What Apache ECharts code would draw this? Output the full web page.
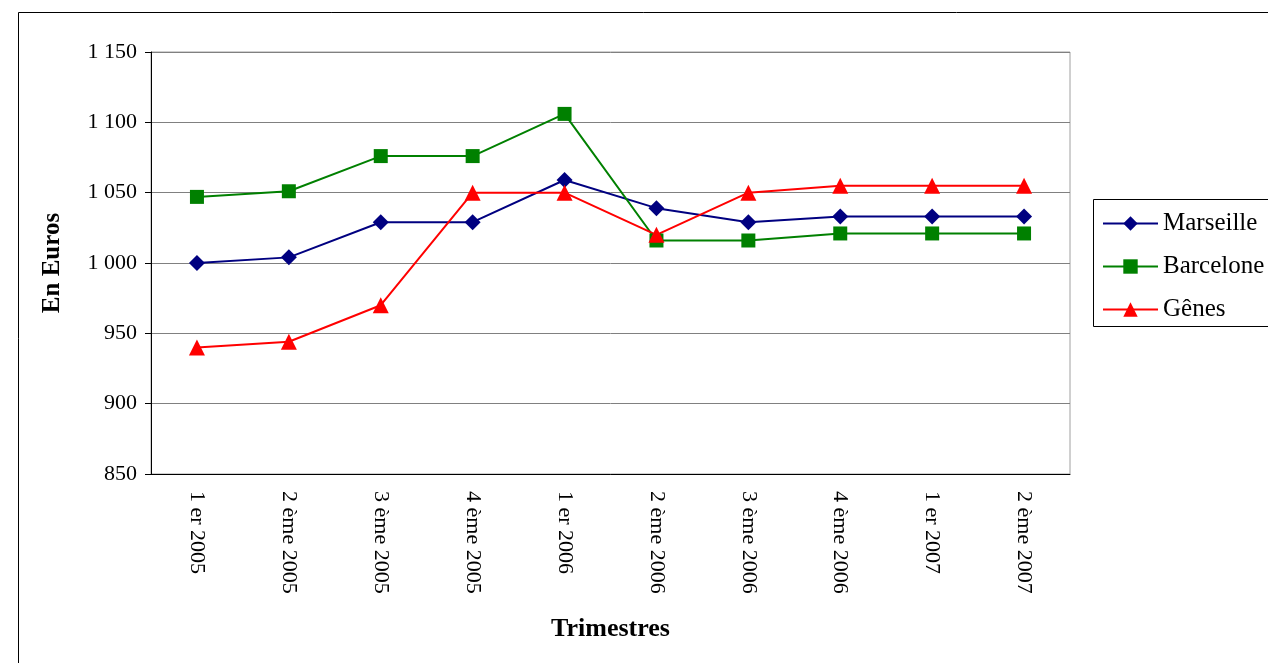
<!DOCTYPE html>
<html>
<head>
<meta charset="utf-8">
<script src="https://cdn.jsdelivr.net/npm/echarts@6/dist/echarts.min.js"></script>
<style>
  html, body { margin: 0; padding: 0; background: #fff; }
  #chart { width: 1268px; height: 663px; }
</style>
</head>
<body>
<div id="chart"></div>
<script>
var trimestres = ['1 er 2005', '2 ème 2005', '3 ème 2005', '4 ème 2005', '1 er 2006',
    '2 ème 2006', '3 ème 2006', '4 ème 2006', '1 er 2007', '2 ème 2007'];
var marseille = [1000, 1004, 1029, 1029, 1059, 1039, 1029, 1033, 1033, 1033];
var barcelone = [1047, 1051, 1076, 1076, 1106, 1016, 1016, 1021, 1021, 1021];
var genes = [940, 944, 970, 1050, 1050, 1020, 1050, 1055, 1055, 1055];

var font = 'Liberation Serif';
var myChart = echarts.init(document.getElementById('chart'));

function serie(name, data, color, symbol, size) {
    return {
        name: name,
        type: 'line',
        data: data,
        symbol: symbol,
        symbolSize: size,
        showAllSymbol: true,
        itemStyle: { color: color },
        lineStyle: { color: color, width: 2 },
        animation: false
    };
}

var option = {
    backgroundColor: '#fff',
    textStyle: { fontFamily: font },
    graphic: [
        // cadre du graphique (coupe a droite et en bas)
        { type: 'rect', shape: { x: 18.5, y: 12.5, width: 1300, height: 700 },
          style: { fill: 'none', stroke: '#000', lineWidth: 1 }, z: -1 },
        // cadre de la legende
        { type: 'rect', shape: { x: 1093.5, y: 199.5, width: 200, height: 127 },
          style: { fill: '#fff', stroke: '#000', lineWidth: 1 }, z: 0 }
    ],
    grid: { left: 151, right: 198, top: 52, bottom: 189, show: true,
            borderColor: '#a0a0a0', borderWidth: 1 },
    legend: {
        orient: 'vertical',
        left: 1102, top: 211,
        padding: 0,
        itemWidth: 55, itemHeight: 18, itemGap: 18,
        z: 5,
        textStyle: { fontFamily: font, fontSize: 25, lineHeight: 24, color: '#000' },
        data: ['Marseille', 'Barcelone', 'Gênes']
    },
    xAxis: {
        type: 'category',
        data: trimestres,
        boundaryGap: true,
        name: 'Trimestres',
        nameLocation: 'middle',
        nameGap: 142,
        nameTextStyle: { fontFamily: font, fontSize: 26, fontWeight: 'bold', color: '#000' },
        axisLine: { lineStyle: { color: '#000', width: 1 } },
        axisTick: { length: 6, lineStyle: { color: '#000' } },
        axisLabel: { rotate: -90, margin: 17, fontFamily: font, fontSize: 22, color: '#000', interval: 0 }
    },
    yAxis: {
        type: 'value',
        min: 850, max: 1150, interval: 50,
        name: 'En Euros',
        nameLocation: 'middle',
        nameGap: 86,
        nameTextStyle: { fontFamily: font, fontSize: 25, fontWeight: 'bold', color: '#000' },
        axisLine: { show: true, lineStyle: { color: '#000', width: 1 } },
        axisTick: { show: true, inside: false, length: 6, lineStyle: { color: '#000' } },
        axisLabel: {
            margin: 14, fontFamily: font, fontSize: 22, color: '#000',
            formatter: function (v) {
                return v >= 1000 ? Math.floor(v / 1000) + ' ' + String(v % 1000).padStart(3, '0') : String(v);
            }
        },
        splitLine: { lineStyle: { color: '#808080', width: 1 } }
    },
    series: [
        serie('Marseille', marseille, '#000080', 'diamond', 16),
        serie('Barcelone', barcelone, '#008000', 'rect', 14),
        serie('Gênes', genes, '#ff0000', 'triangle', 16)
    ]
};

myChart.setOption(option);
</script>
</body>
</html>
